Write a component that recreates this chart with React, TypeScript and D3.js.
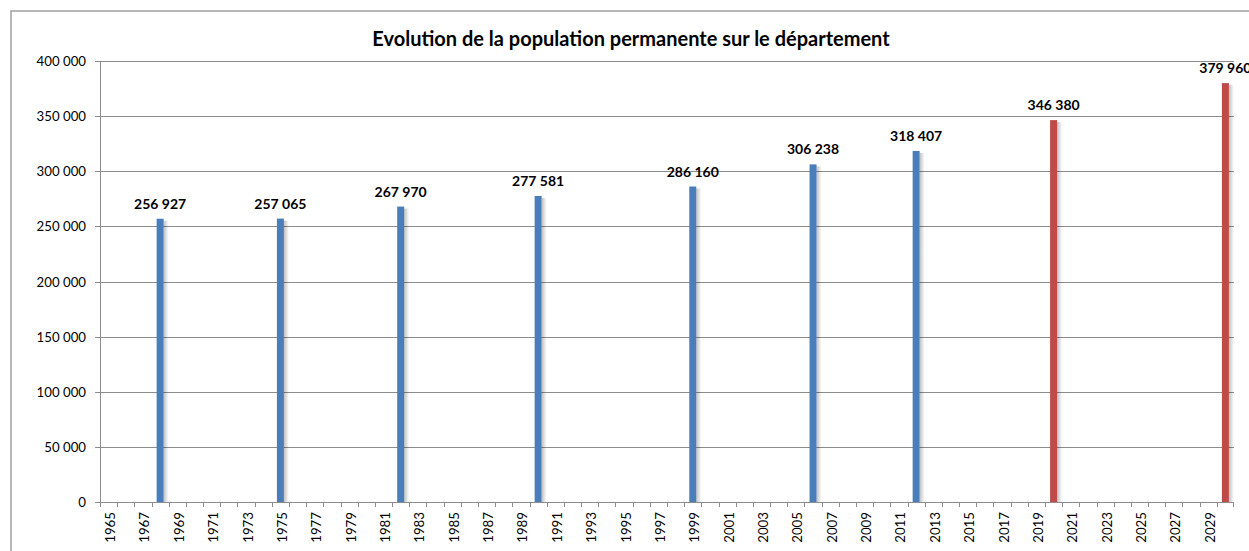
import React from "react";
import * as d3 from "d3";

const years: number[] = d3.range(1965, 2031);
const barYears = [1968, 1975, 1982, 1990, 1999, 2006, 2012, 2020, 2030];
const barValues = [256927, 257065, 267970, 277581, 286160, 306238, 318407, 346380, 379960];
const projected = [false, false, false, false, false, false, false, true, true];
const yTicks = [0, 50000, 100000, 150000, 200000, 250000, 300000, 350000, 400000];
const title = "Evolution de la population permanente sur le département";

const W = 1249, H = 551;
const M = { left: 100, right: 1234, top: 61, bottom: 502 };
const FONT = "Lato, 'Open Sans', sans-serif";

const fmt = (v: number) => String(v).replace(/\B(?=(\d{3})+(?!\d))/g, " ");
const textLen = (s: string) => {
  const digits = s.replace(/\D/g, "").length;
  const spaces = s.length - digits;
  return digits * 7.7 + spaces * 3.2;
};

export default function App() {
  const x = d3.scaleBand<number>().domain(years).range([M.left, M.right]).padding(0);
  const y = d3.scaleLinear().domain([0, 400000]).range([M.bottom, M.top]);
  const bw = 7;
  const blue = "#4A7EBB";
  const red = "#BE4B48";

  return (
    <svg width={W} height={H} style={{ display: "block", position: "absolute", left: 0, top: 0 }} fontFamily={FONT}>
      <defs>
        <linearGradient id="shadow" x1="0" x2="1" y1="0" y2="0">
          <stop offset="0" stopColor="#000" stopOpacity="0.25" />
          <stop offset="1" stopColor="#000" stopOpacity="0" />
        </linearGradient>
      </defs>
      <rect x={0} y={0} width={W} height={H} fill="#fff" />
      <rect x={11} y={11} width={W + 20} height={H + 20} fill="none" stroke="#a0a0a0" strokeWidth={1.5} />
      <text x={631} y={46} textAnchor="middle" fontSize={20} fontWeight="bold" fill="#000">{title}</text>
      {yTicks.map((t) => (
        <g key={t}>
          <line x1={M.left - 5} x2={M.right} y1={Math.round(y(t)) + 0.5} y2={Math.round(y(t)) + 0.5} stroke="#8c8c8c" strokeWidth={1} />
          <text
            x={86}
            y={y(t) + 5}
            textAnchor="end"
            fontSize={14}
            fill="#000"
            textLength={textLen(fmt(t))}
            lengthAdjust="spacingAndGlyphs"
          >
            {fmt(t)}
          </text>
        </g>
      ))}
      <line x1={M.left + 0.5} x2={M.left + 0.5} y1={M.top} y2={M.bottom} stroke="#8c8c8c" />
      {years.map((yr) => {
        const xx = Math.round(x(yr)!) + 0.5;
        return <line key={"t" + yr} x1={xx} x2={xx} y1={M.bottom} y2={M.bottom + 5} stroke="#8c8c8c" />;
      })}
      <line x1={M.right - 0.5} x2={M.right - 0.5} y1={M.bottom} y2={M.bottom + 5} stroke="#8c8c8c" />
      {years.map((yr, i) =>
        i % 2 === 0 ? (
          <text
            key={"l" + yr}
            transform={`translate(${x(yr)! + x.bandwidth() / 2 + 6.5},${M.bottom + 10}) rotate(-90)`}
            textAnchor="end"
            fontSize={14}
            fill="#000"
            textLength={textLen(String(yr))}
            lengthAdjust="spacingAndGlyphs"
          >
            {yr}
          </text>
        ) : null
      )}
      {barYears.map((yr, i) => {
        const cx = x(yr)! + x.bandwidth() / 2;
        const top = y(barValues[i]);
        return (
          <g key={"b" + yr}>
            <rect x={cx + bw / 2} y={top + 2} width={5} height={M.bottom - top - 2} fill="url(#shadow)" />
            <rect x={cx - bw / 2} y={top} width={bw} height={M.bottom - top} fill={projected[i] ? red : blue} />
            <text x={cx} y={top - 10} textAnchor="middle" fontSize={14} fontWeight="bold" fill="#000">
              {fmt(barValues[i])}
            </text>
          </g>
        );
      })}
    </svg>
  );
}
